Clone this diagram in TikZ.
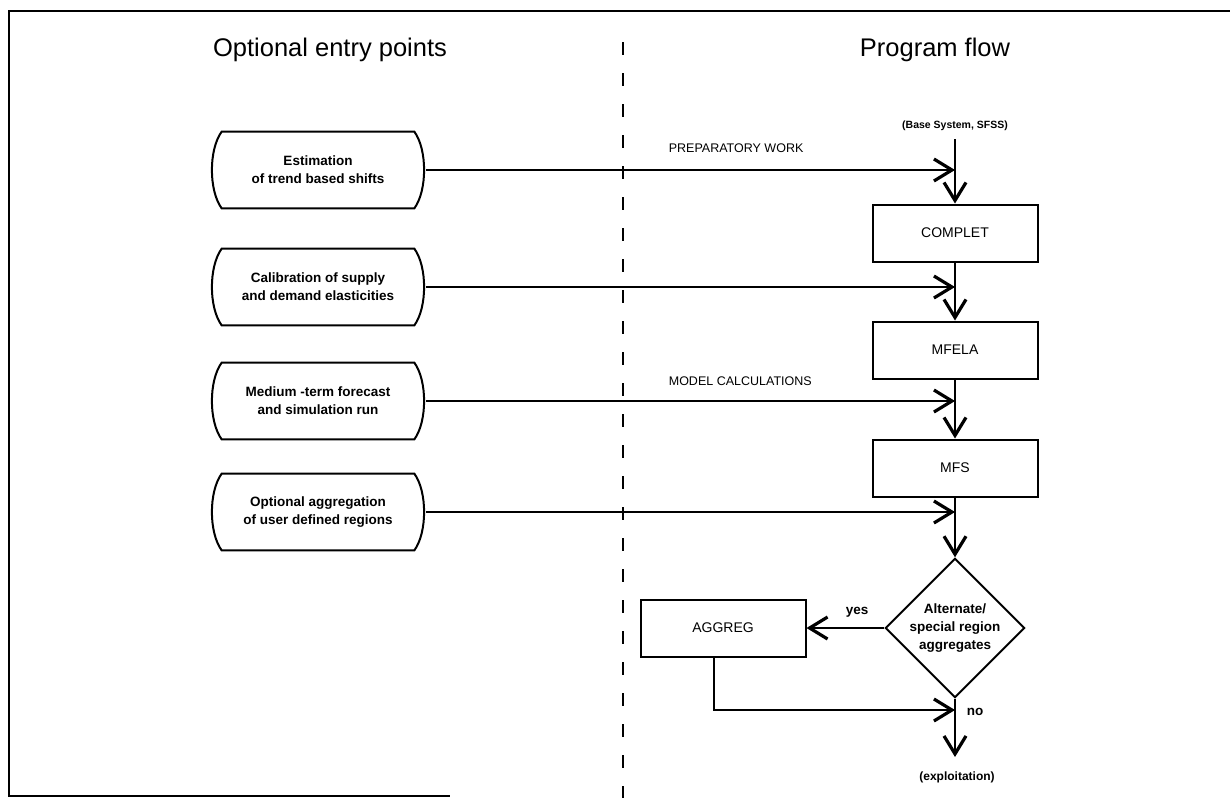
\documentclass[tikz,border=0pt]{standalone}
\usepackage{fontspec}
\setmainfont{Liberation Sans}
\usetikzlibrary{arrows.meta,shapes.geometric,calc}
\begin{document}
\begin{tikzpicture}[x=1pt,y=-1pt,
  line width=1.7pt,
  arr/.style={-{Straight Barb[length=18pt,width=22pt,line width=3.2pt]}},
  box/.style={draw, line width=2pt, minimum width=165pt, minimum height=57pt, inner sep=0pt, font=\fontsize{14}{16}\selectfont},
  entry/.style={minimum width=215pt, minimum height=75pt, align=center, inner sep=0pt, font=\fontsize{13.5}{18}\selectfont\bfseries},
  outline/.style={line width=2pt},
  lbl/.style={inner sep=0pt, font=\fontsize{13.5}{16}\selectfont\bfseries},
  small/.style={inner sep=0pt, font=\fontsize{12.5}{15}\selectfont},
  ttl/.style={inner sep=0pt, font=\fontsize{25.5}{28}\selectfont},
  dec/.style={draw, diamond, aspect=1, line width=2pt, minimum width=137pt, minimum height=137pt, inner sep=0pt, align=center, font=\fontsize{13.5}{18}\selectfont\bfseries}
]
\useasboundingbox (0,0) rectangle (1230,798);

% frame
\coordinate (fr1) at (1230,11);
\coordinate (fr2) at (9,11);
\coordinate (fr3) at (9,796);
\coordinate (fr4) at (450,796);
\draw[line width=2pt] (fr1) -- (fr2) -- (fr3) -- (fr4);

% divider
\coordinate (dtop) at (623,42);
\coordinate (dbot) at (623,798);
\draw[line width=2pt, dash pattern=on 13pt off 18pt] (dtop) -- (dbot);

% titles
\node[ttl] (t1) at (330,50) {Optional entry points};
\node[ttl] (t2) at (935,50) {Program flow};

% entry points
\node[entry] (e1) at (318,170) {Estimation\\of trend based shifts};
\node[entry] (e2) at (318,287) {Calibration of supply\\and demand elasticities};
\node[entry] (e3) at (318,401) {Medium -term forecast\\and simulation run};
\node[entry] (e4) at (318,512) {Optional aggregation\\of user defined regions};
\foreach \n in {e1,e2,e3,e4} {
  \draw[outline] ($(\n.north west)+(12,0)$) -- ($(\n.north east)+(-12,0)$)
    .. controls ($(\n.north east)+(1,18)$) and ($(\n.south east)+(1,-18)$) .. ($(\n.south east)+(-12,0)$)
    -- ($(\n.south west)+(12,0)$)
    .. controls ($(\n.south west)+(-1,-18)$) and ($(\n.north west)+(-1,18)$) .. cycle;
}

% program flow
\node[inner sep=0pt, font=\fontsize{10.5}{12}\selectfont\bfseries] (base) at (955,126) {(Base System, SFSS)};
\coordinate (start) at (955,139);
\node[box] (complet) at (955,233) {COMPLET};
\node[box] (mfela) at (955,350) {MFELA};
\node[box] (mfs) at (955,468) {MFS};
\node[dec] (dec) at (955,628) {Alternate/\\special region\\aggregates};
\node[box] (aggreg) at (723,628) {AGGREG};
\coordinate (join) at (955,710);
\node[lbl, font=\fontsize{12}{14}\selectfont\bfseries] (expl) at (957,777) {(exploitation)};
\coordinate (end) at (955,757);

% side arrows
\coordinate (a1) at (955,170);
\coordinate (a2) at (955,287);
\coordinate (a3) at (955,401);
\coordinate (a4) at (955,512);
\draw[arr] (e1.east) -- (a1);
\draw[arr] (e2.east) -- (a2);
\draw[arr] (e3.east) -- (a3);
\draw[arr] (e4.east) -- (a4);

\node[small, anchor=west] (prep) at (668,148) {PREPARATORY WORK};
\node[small, anchor=west] (model) at (668,381) {MODEL CALCULATIONS};

% vertical flow
\draw[arr] (start) -- (complet.north);
\draw[arr] (complet.south) -- (mfela.north);
\draw[arr] (mfela.south) -- (mfs.north);
\draw[arr] (mfs.south) -- (dec.north);
\draw[arr] (dec.west) -- (aggreg.east);
\node[lbl] (yes) at (857,612) {yes};
\draw (dec.south) -- (join);
\draw[arr] (join) -- (end);
\draw[arr] ([xshift=-9pt]aggreg.south) |- (join);
\node[lbl] (no) at (975,712) {no};
\end{tikzpicture}
\end{document}
